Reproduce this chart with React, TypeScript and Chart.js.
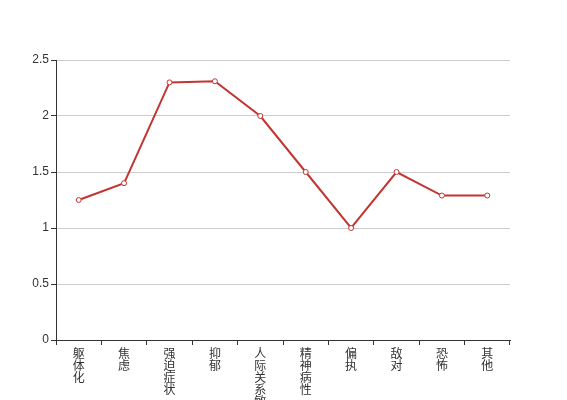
import React, { useEffect, useRef } from "react";
import { Chart, registerables } from "chart.js";

Chart.register(...registerables);

const categories = ["躯体化", "焦虑", "强迫症状", "抑郁", "人际关系敏感", "精神病性", "偏执", "敌对", "恐怖", "其他"];
const values = [1.25, 1.4, 2.3, 2.31, 2.0, 1.5, 1.0, 1.5, 1.29, 1.29];
const yTicks = [0, 0.5, 1, 1.5, 2, 2.5];

const FONT = "'Liberation Sans', 'Noto Sans CJK SC', sans-serif";

export default function App() {
  const ref = useRef<HTMLCanvasElement | null>(null);
  useEffect(() => {
    if (!ref.current) return;
    const chart = new Chart(ref.current, {
      type: "line",
      data: {
        labels: categories.map((c) => c.split("")),
        datasets: [
          {
            data: values,
            borderColor: "#c23531",
            borderWidth: 2,
            backgroundColor: "#ffffff",
            pointBackgroundColor: "#ffffff",
            pointBorderColor: "#c23531",
            pointBorderWidth: 1,
            pointRadius: 2.5,
            tension: 0,
            fill: false,
          },
        ],
      },
      options: {
        responsive: false,
        animation: false,
        layout: { padding: { left: 0, right: 57, top: 60, bottom: 0 } },
        plugins: { legend: { display: false }, tooltip: { enabled: false } },
        scales: {
          x: {
            offset: true,
            grid: {
              offset: true,
              drawOnChartArea: false,
              drawTicks: true,
              tickLength: 5,
              tickColor: "#333",
            },
            border: { color: "#333", width: 1 },
            ticks: {
              color: "#333",
              font: { family: FONT, size: 12, lineHeight: 1 },
              padding: 4,
              maxRotation: 0,
              autoSkip: false,
            },
            afterFit: (s: any) => {
              s.height = 60;
            },
          },
          y: {
            min: 0,
            max: 2.5,
            afterBuildTicks: (s: any) => {
              s.ticks = yTicks.map((v) => ({ value: v }));
            },
            grid: {
              color: "#ccc",
              drawTicks: true,
              tickLength: 5,
              tickColor: "#333",
            },
            border: { color: "#333", width: 1 },
            ticks: {
              color: "#333",
              font: { family: FONT, size: 12 },
              padding: 2,
              callback: (v: any) => String(v),
            },
            afterFit: (s: any) => {
              s.width = 56;
            },
          },
        },
      },
    });
    return () => chart.destroy();
  }, []);
  return (
    <div style={{ position: "fixed", left: 0, top: 0, width: 567, height: 400, background: "#fff" }}>
      <canvas ref={ref} width={567} height={400} style={{ display: "block" }} />
    </div>
  );
}
